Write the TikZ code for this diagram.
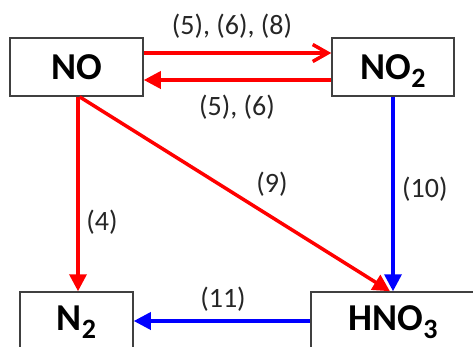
\documentclass[tikz,border=0pt]{standalone}
\usepackage{fontspec}
\setmainfont{Carlito}
\usetikzlibrary{arrows.meta}
\newcommand{\chemsub}[1]{\raisebox{-8pt}{\fontsize{28}{28}\selectfont #1}}
\tikzset{
  box/.style={draw={rgb,255:red,64;green,64;blue,64}, line width=1.5pt, rectangle, inner sep=0pt,
    font=\fontsize{38}{38}\selectfont\bfseries, text height=25pt},
  topbox/.style={box, text depth=0pt, minimum height=58pt},
  botbox/.style={box, text depth=7pt, minimum height=58pt},
  lbl/.style={font=\fontsize{28}{28}\selectfont, inner sep=0pt, text=black!85},
  redarr/.style={draw=red, line width=3.5pt},
  bluearr/.style={draw=blue, line width=3.5pt},
  filled/.style={-{Triangle[length=17pt,width=17pt]}},
  open/.style={-{Straight Barb[length=15pt,width=17pt,line width=3.5pt]}}
}
\begin{document}
\begin{tikzpicture}[x=1pt,y=-1pt]
\clip (0,0) rectangle (473,346);
\fill[white] (0,0) rectangle (473,346);
\node[topbox, minimum width=133pt] (NO) at (76.5,67) {NO};
\node[topbox, minimum width=122pt] (NOtwo) at (393,67) {NO\chemsub{2}};
\node[botbox, minimum width=113pt] (Ntwo) at (76.5,321) {N\chemsub{2}};
\node[botbox, minimum width=164pt] (HNO) at (393,321) {HNO\chemsub{3}};
\draw[redarr, open] ([yshift=14pt]NO.east) -- ([yshift=14pt]NOtwo.west);
\draw[redarr, filled] ([yshift=-13pt]NOtwo.west) -- ([yshift=-13pt]NO.east);
\draw[redarr, filled] ([xshift=1.5pt]NO.south) -- ([xshift=1.5pt]NO.south |- Ntwo.north);
\draw[redarr, filled] ([xshift=3pt]NO.south) -- ([xshift=-3pt]HNO.north);
\draw[bluearr, filled] (NOtwo.south) -- (NOtwo.south |- HNO.north);
\draw[bluearr, filled] (HNO.west) -- (Ntwo.east);
\node[lbl, anchor=base] (l568) at (232,34) {(5), (6), (8)};
\node[lbl, anchor=base] (l56) at (237,115) {(5), (6)};
\node[lbl, anchor=base] (l4) at (102,230) {(4)};
\node[lbl, anchor=base] (l9) at (272,192) {(9)};
\node[lbl, anchor=base west] (l10) at (402,197) {(10)};
\node[lbl, anchor=base] (l11) at (223,307) {(11)};
\end{tikzpicture}
\end{document}
